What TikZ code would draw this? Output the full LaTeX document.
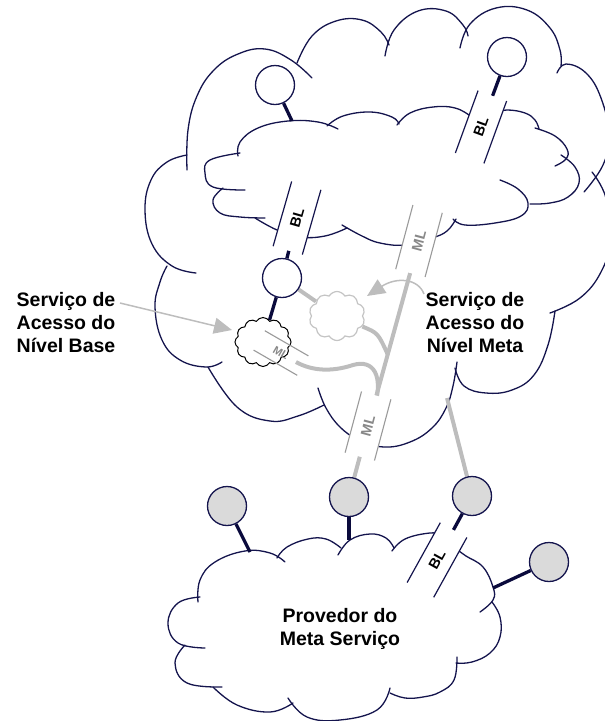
\documentclass[tikz,border=0pt]{standalone}
\usepackage{fontspec}
\setmainfont{Liberation Sans}
\usetikzlibrary{shapes.symbols,arrows.meta}
\definecolor{navy}{HTML}{14144D}
\definecolor{darklink}{HTML}{0A0A3C}
\definecolor{metagray}{HTML}{BDBDBD}
\definecolor{boxgray}{HTML}{9A9A9A}
\definecolor{mltext}{HTML}{888888}
\definecolor{puffgray}{HTML}{C4C4C4}
\definecolor{nodefill}{HTML}{DADADA}
\pgfdeclarelayer{clouds}
\pgfdeclarelayer{links}
\pgfsetlayers{clouds,links,main}
% one bump of a hand-drawn cloud outline
\newcommand\cloudarc[1]{\draw[cloudline] plot[smooth,tension=0.7] coordinates {#1};}
% the two long sides of a link marker
\newcommand\linksides[2]{\draw[#2] (#1.north west) -- (#1.north east) (#1.south west) -- (#1.south east);}
\tikzset{
  cloudline/.style={navy, line width=1.3pt, line cap=round},
  site/.style={circle, draw=navy, line width=1.3pt, fill=white, minimum size=39pt, inner sep=0pt},
  provider/.style={site, fill=nodefill},
  baselink/.style={darklink, line width=3.3pt},
  metalink/.style={metagray, line width=4pt},
  linkbox/.style={rectangle, fill=white, inner sep=0pt, minimum height=30pt, font=\bfseries\fontsize{14.5}{14.5}\selectfont},
  blbox/.style={linkbox, text=black},
  mlbox/.style={linkbox, text=mltext},
  blside/.style={navy, line width=1.2pt},
  mlside/.style={boxgray, line width=1.1pt},
  legendtext/.style={align=center, font=\bfseries\fontsize{19.5}{23}\selectfont},
  pointer/.style={metagray, line width=1.5pt, -{Triangle[length=18pt,width=16pt]}},
  puff/.style={cloud, cloud puff arc=120, aspect=1.15, fill=white, minimum width=56pt, minimum height=49pt, inner sep=0pt},
}
\begin{document}
\begin{tikzpicture}[x=1pt,y=-1pt]
\useasboundingbox (0,0) rectangle (605,721);

% ---------- sites ----------
\node[site] (c1) at (507,57) {};
\node[site] (c2) at (275,85) {};
\node[site] (c3) at (282,278) {};
\node[provider] (b1) at (227,506) {};
\node[provider] (b2) at (349,497) {};
\node[provider] (b3) at (472,496) {};
\node[provider] (b4) at (549,562) {};

% ---------- access services ----------
\node[puff, cloud puffs=12, draw=black, line width=1pt] (sc) at (263,342) {};
\node[puff, cloud puffs=10, draw=puffgray, line width=1.2pt] (gc) at (337,316) {};

% ---------- link markers ----------
\node[blbox, minimum width=66pt, rotate=70] (bl1) at (481,127) {BL};
\node[blbox, minimum width=67pt, rotate=74] (bl2) at (297,218) {BL};
\node[blbox, minimum width=68pt, rotate=61] (bl3) at (437,560) {BL};
\node[mlbox, minimum width=66pt, rotate=75] (ml1) at (419,241) {ML};
\node[mlbox, minimum width=63pt, rotate=75] (ml2) at (368,426) {ML};
\node[mlbox, fill=none, minimum width=50pt, minimum height=22pt, rotate=-30,
      font=\bfseries\fontsize{11}{11}\selectfont] (ml3) at (281,353) {ML};
\linksides{bl1}{blside}
\linksides{bl2}{blside}
\linksides{bl3}{blside}
\linksides{ml1}{mlside}
\linksides{ml2}{mlside}
\linksides{ml3}{mlside}

% ---------- captions ----------
\node[legendtext] (lb) at (66,323) {Serviço de\\Acesso do\\Nível Base};
\node[legendtext] (lm) at (475,323) {Serviço de\\Acesso do\\Nível Meta};
\node[legendtext] (lp) at (340,629) {Provedor do\\Meta Serviço};

\coordinate (p1) at (120,303);
\coordinate (p1t) at (232,330);
\draw[pointer] (p1) -- (p1t);
\coordinate (p2) at (424,294);
\coordinate (p2t) at (367,296);
\draw[pointer] (p2) .. controls (418,278) and (396,277) .. (p2t);

% ---------- connectors ----------
\begin{pgfonlayer}{links}
\coordinate (e2) at (292,121);
\draw[baselink] (c2) -- (e2);
\draw[baselink] (c1) -- (bl1);
\draw[baselink] (c3) -- (bl2);
\draw[baselink] (c3) -- (sc);
\draw[metalink] (c3) -- (gc);
\draw[metalink] (ml1) -- (ml2) -- (b2);
\coordinate (j2) at (388,355);
\draw[metalink] (gc) .. controls (378,333) .. (j2);
\coordinate (m3) at (296,362);
\coordinate (j1) at (375,405);
\draw[metalink] (m3) .. controls (312,371) and (332,372) .. (353,365)
                     .. controls (374,359) and (383,376) .. (j1);
\coordinate (eg) at (447,398);
\draw[metalink] (eg) -- (b3);
\coordinate (eb1) at (250,552);
\draw[baselink] (b1) -- (eb1);
\coordinate (eb2) at (349,540);
\draw[baselink] (b2) -- (eb2);
\draw[baselink] (b3) -- (bl3);
\coordinate (eb4) at (493,588);
\draw[baselink] (b4) -- (eb4);
\end{pgfonlayer}

% ---------- clouds ----------
\begin{pgfonlayer}{clouds}
% outer network
\cloudarc{(187,170) (188,130) (197,96) (214,70) (238,54) (265,49) (291,60) (312,78)}
\cloudarc{(297,63) (312,36) (336,21) (362,20) (381,32) (389,45)}
\cloudarc{(385,56) (394,30) (418,11) (446,11) (463,25) (468,36)}
\cloudarc{(460,48) (470,24) (496,8) (527,10) (550,28) (560,50) (561,66)}
\cloudarc{(557,73) (566,64) (586,73) (601,98) (609,135) (603,165) (584,192)}
\cloudarc{(592,172) (606,198) (610,240) (601,272) (580,298) (550,313)}
\cloudarc{(555,311) (548,345) (534,375) (512,390) (486,393) (464,386) (455,368)}
\cloudarc{(457,362) (453,386) (446,408) (432,428) (410,442) (384,447) (359,440) (340,427) (326,408) (318,388)}
\cloudarc{(324,405) (298,416) (270,421) (237,407) (208,367)}
\cloudarc{(222,362) (206,367) (180,360) (162,340) (155,307) (160,282) (167,266)}
\cloudarc{(196,273) (172,266) (152,244) (145,210) (151,180) (167,162) (187,155)}
% inner network
\cloudarc{(238,156) (240,142) (258,128) (288,121) (318,122) (338,129)}
\cloudarc{(327,126) (343,116) (370,112) (392,117) (399,124)}
\cloudarc{(397,125) (410,113) (433,107) (455,108) (472,117) (480,124)}
\cloudarc{(492,113) (507,110) (525,113) (535,120) (539,129)}
\cloudarc{(535,128) (555,136) (567,149) (566,159) (555,166)}
\cloudarc{(561,155) (575,167) (579,183) (568,197) (550,203) (530,204)}
\cloudarc{(500,180) (518,189) (528,203) (521,216) (495,223) (465,225) (453,219)}
\cloudarc{(456,219) (447,231) (432,238) (405,245) (380,243) (362,236) (342,225)}
\cloudarc{(347,228) (325,236) (300,237) (277,230) (255,218)}
\cloudarc{(265,218) (240,217) (220,213) (213,200) (223,188)}
\cloudarc{(245,190) (213,187) (205,173) (210,160) (240,153)}
% provider network
\cloudarc{(198,602) (200,580) (215,562) (245,551) (270,553) (285,562)}
\cloudarc{(277,558) (287,547) (308,539) (326,539) (341,548)}
\cloudarc{(338,555) (350,540) (370,534) (386,538) (394,548)}
\cloudarc{(392,551) (405,539) (430,533) (445,535)}
\cloudarc{(455,548) (466,556) (483,567) (493,587) (493,600) (480,612)}
\cloudarc{(492,602) (500,617) (500,637) (490,653) (472,662) (456,663)}
\cloudarc{(457,657) (454,680) (440,692) (423,697) (405,698) (390,693)}
\cloudarc{(390,688) (377,710) (340,720) (307,717) (288,698)}
\cloudarc{(293,703) (270,712) (237,705) (213,687)}
\cloudarc{(222,687) (187,683) (175,663) (185,645)}
\cloudarc{(205,648) (178,643) (168,623) (178,603) (200,597)}
\end{pgfonlayer}
\end{tikzpicture}
\end{document}
